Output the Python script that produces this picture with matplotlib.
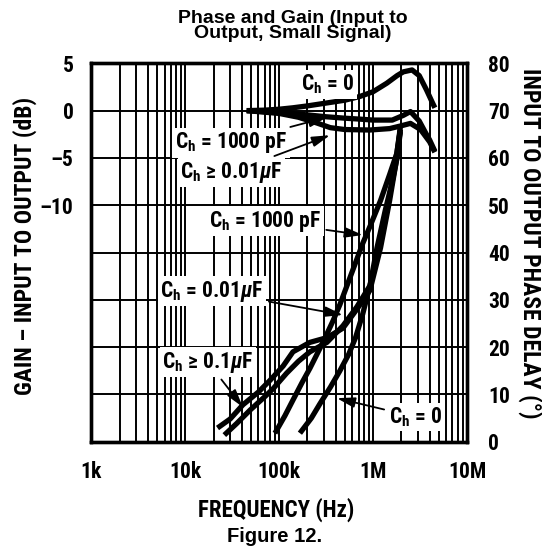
import numpy as np
import matplotlib
matplotlib.use("Agg")
from matplotlib import pyplot as plt
from matplotlib import font_manager

# pick a condensed / narrow bold face if one is installed
names = sorted(set(f.name for f in font_manager.fontManager.ttflist))
cond_family = None
for cand in ['Liberation Sans Narrow', 'DejaVu Sans Condensed', 'Roboto Condensed', 'Open Sans Condensed', 'Noto Sans Condensed']:
    if cand in names:
        cond_family = cand
        break
if cond_family is None:
    for f in font_manager.fontManager.ttflist:
        if f.stretch in ('condensed', 'semi-condensed', 'extra-condensed', 300, 400):
            cond_family = f.name
            break
if cond_family is None:
    cond_family = 'Roboto'

plt.rcParams['mathtext.fontset'] = 'custom'
plt.rcParams['mathtext.rm'] = cond_family + ':weight=bold'
plt.rcParams['mathtext.it'] = cond_family + ':style=italic:weight=bold'
plt.rcParams['mathtext.bf'] = cond_family + ':weight=bold'

# gain curves (dB, left axis)
gain_ch0_f = [45e3, 70e3, 100e3, 140e3, 200e3, 316e3, 500e3, 725e3, 1.0e6, 1.4e6, 1.8e6, 2.1e6, 2.6e6, 3.1e6, 3.7e6, 4.3e6, 4.55e6]
gain_ch0 = [0, 0.05, 0.15, 0.3, 0.5, 0.8, 1.1, 1.5, 2.0, 2.9, 3.7, 4.1, 4.3, 3.7, 2.2, 0.8, 0.3]

gain_1000p_f = [45e3, 100e3, 200e3, 316e3, 500e3, 725e3, 1.0e6, 1.6e6, 2.1e6, 2.5e6, 3.1e6, 3.6e6, 4.0e6, 4.55e6]
gain_1000p = [0, -0.2, -0.45, -0.65, -0.8, -0.9, -1.0, -1.0, -0.5, -0.1, -1.1, -2.3, -3.1, -4.3]

gain_001u_f = [45e3, 100e3, 160e3, 250e3, 350e3, 500e3, 925e3, 1.5e6, 2.0e6, 2.5e6, 3.2e6, 4.0e6, 4.55e6]
gain_001u = [0, -0.3, -0.7, -1.3, -1.8, -2.0, -2.05, -1.9, -1.6, -1.35, -2.0, -3.3, -4.4]

# phase curves (degrees, right axis)
phase_01u_f = [22e3, 30e3, 41e3, 60e3, 80e3, 110e3, 140e3, 212e3, 322e3, 477e3, 671e3, 925e3, 1.2e6, 1.5e6, 1.79e6, 1.95e6]
phase_01u = [2.9, 4.8, 7.8, 10.5, 13, 16, 19, 21, 22, 24, 28, 32, 41, 51, 60, 66]

phase_001u_f = [26e3, 35e3, 49e3, 70e3, 86e3, 120e3, 160e3, 212e3, 322e3, 477e3, 671e3, 925e3, 1.2e6, 1.5e6, 1.79e6, 1.95e6]
phase_001u = [1.4, 3.8, 6.7, 9.5, 11.2, 14.5, 17, 19, 21, 24.5, 28.5, 33, 42, 52, 61, 66.5]

phase_1000p_f = [90e3, 115e3, 140e3, 175e3, 212e3, 292e3, 373e3, 443e3, 600e3, 778e3, 925e3, 1.2e6, 1.5e6, 1.79e6, 1.95e6]
phase_1000p = [1.8, 5.5, 8.8, 12.5, 15.5, 21, 25.5, 29, 36, 42, 45.5, 51, 56.5, 61, 66]

phase_ch0_f = [166e3, 220e3, 271e3, 350e3, 443e3, 550e3, 650e3, 775e3, 925e3, 1.1e6, 1.35e6, 1.6e6, 1.8e6, 1.95e6]
phase_ch0 = [1.8, 5, 8, 11.5, 15, 18.5, 22, 27, 33, 41, 49, 55, 60, 65.5]

freq_ticks = [1e3, 1e4, 1e5, 1e6, 1e7]
freq_labels = ['1k', '10k', '100k', '1M', '10M']
gain_ticks = [5, 0, -5, -10]
gain_labels = ['5', '0', '\u20135', '\u201310']
phase_ticks = [0, 10, 20, 30, 40, 50, 60, 70, 80]

cond = dict(family=[cond_family, 'DejaVu Sans'], fontweight='bold')
fs = 15.5   # in-plot labels
fst = 15.5  # tick labels
fsa = 17    # axis titles

fig = plt.figure(figsize=(5.42, 5.54), dpi=100)
ax = fig.add_axes([0.1688, 0.2027, 0.6928, 0.6830])
ax.set_xscale('log')
ax.set_xlim(1e3, 1e7)
ax.set_ylim(-35, 5)

# grid
ax.set_xticks(freq_ticks)
ax.set_xticklabels(freq_labels, fontsize=fst, **cond)
ax.xaxis.set_minor_locator(matplotlib.ticker.LogLocator(base=10, subs=np.arange(2, 10)))
ax.xaxis.set_minor_formatter(matplotlib.ticker.NullFormatter())
ax.set_yticks(np.arange(-35, 6, 5))
ax.set_yticklabels([gain_labels[gain_ticks.index(v)] if v in gain_ticks else '' for v in np.arange(-35, 6, 5)],
                   fontsize=fst, **cond)
ax.grid(True, which='both', color='black', lw=1.4)
ax.tick_params(which='both', length=0)
ax.tick_params(axis='x', pad=14)
ax.tick_params(axis='y', pad=13)
for s in ax.spines.values():
    s.set_linewidth(2.4)

lw = 3.8
ax.plot(gain_ch0_f, gain_ch0, color='black', lw=lw, solid_capstyle='butt', zorder=4)
ax.plot(gain_1000p_f, gain_1000p, color='black', lw=lw, solid_capstyle='butt', zorder=4)
ax.plot(gain_001u_f, gain_001u, color='black', lw=lw, solid_capstyle='butt', zorder=4)

axp = ax.twinx()
axp.set_ylim(0, 80)
axp.set_yticks(phase_ticks)
axp.set_yticklabels([str(v) for v in phase_ticks], fontsize=fst, **cond)
axp.tick_params(length=0, pad=15)
for s in axp.spines.values():
    s.set_linewidth(2.4)

for fx, py in [(phase_01u_f, phase_01u), (phase_001u_f, phase_001u),
               (phase_1000p_f, phase_1000p), (phase_ch0_f, phase_ch0)]:
    axp.plot(fx, py, color='black', lw=lw, solid_capstyle='butt', zorder=4)

box = dict(boxstyle='square,pad=0.12', fc='white', ec='none')
arw = dict(arrowstyle='-|>,head_length=0.7,head_width=0.2', color='black', lw=1.3, shrinkA=2, shrinkB=0)
ch = r'C$_\mathrm{h}$'

axp.text(330e3, 75.6, ch + ' = 0', fontsize=fs, ha='center', va='center', bbox=box, zorder=3, **cond)
axp.annotate(ch + ' = 1000 pF', xy=(322e3, 68.6), xytext=(30.6e3, 63.2), fontsize=fs, ha='center', va='center',
             bbox=box, arrowprops=arw, zorder=3, **cond)
axp.annotate(ch + ' \u2265 0.01$\\mu$F', xy=(347e3, 64.8), xytext=(31e3, 57.0), fontsize=fs, ha='center', va='center',
             bbox=box, arrowprops=arw, zorder=3, **cond)
axp.annotate(ch + ' = 1000 pF', xy=(778e3, 43.7), xytext=(70.4e3, 46.6), fontsize=fs, ha='center', va='center',
             bbox=box, arrowprops=arw, zorder=3, **cond)
axp.annotate(ch + ' = 0.01$\\mu$F', xy=(477e3, 26.8), xytext=(19.2e3, 31.8), fontsize=fs, ha='center', va='center',
             bbox=box, arrowprops=arw, zorder=3, **cond)
axp.annotate(ch + ' \u2265 0.1$\\mu$F', xy=(41e3, 7.3), xytext=(17.4e3, 16.8), fontsize=fs, ha='center', va='center',
             bbox=box, arrowprops=arw, zorder=3, **cond)
axp.annotate(ch + ' = 0', xy=(411e3, 9.2), xytext=(2.86e6, 5.2), fontsize=fs, ha='center', va='center',
             bbox=box, arrowprops=arw, zorder=3, **cond)

# axis titles
fig.text(25 / 542, 1 - 246 / 554, 'GAIN \u2013 INPUT TO OUTPUT (dB)', rotation=90, ha='center', va='center',
         fontsize=fsa, **cond)
fig.text(530 / 542, 1 - 243 / 554, 'INPUT TO OUTPUT PHASE DELAY (\u00b0)', rotation=-90, ha='center', va='center',
         fontsize=fsa, **cond)
fig.text(276 / 542, 1 - 510 / 554, 'FREQUENCY (Hz)', ha='center', va='center', fontsize=16.5, **cond)

fig.text(293 / 542, 1 - 26 / 554, 'Phase and Gain (Input to\nOutput, Small Signal)', ha='center', va='center',
         fontsize=14, fontweight='bold', family='Liberation Sans', linespacing=0.9)
fig.text(275 / 542, 1 - 537 / 554, 'Figure 12.', ha='center', va='center', fontsize=14.5, fontweight='bold',
         family='Liberation Sans')

fig.savefig('out.png', dpi=100)
